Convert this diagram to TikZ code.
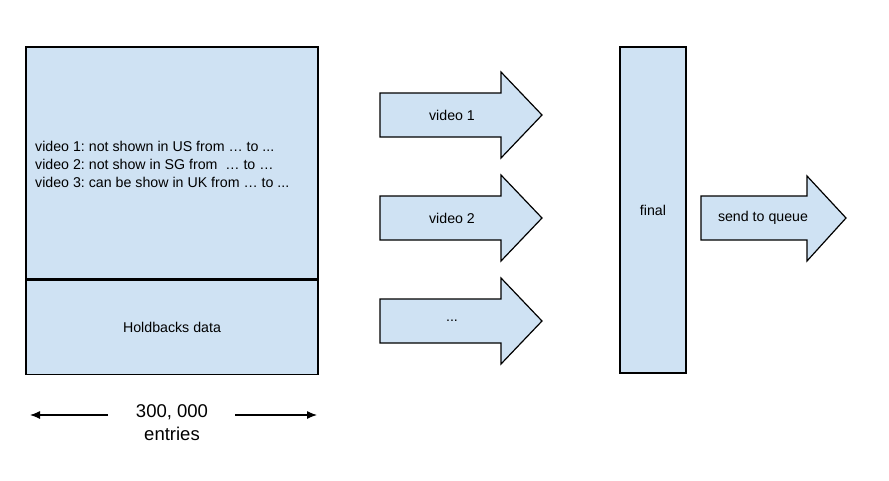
\documentclass[tikz,border=0pt]{standalone}
\usepackage{fontspec}
\setmainfont{Liberation Sans}
\usepackage{tikz}
\usetikzlibrary{arrows.meta,positioning}
\definecolor{gblue}{HTML}{CFE2F3}
\frenchspacing

\tikzset{
  box/.style={draw=black,fill=gblue,line width=1.2pt,inner sep=0pt},
  flow/.style={draw=black,fill=gblue,line width=1.2pt,line join=miter},
  lbl/.style={font=\fontsize{14.2}{18}\selectfont},
}

\begin{document}
\begin{tikzpicture}[x=1pt,y=-1pt]
  \useasboundingbox (0,0) rectangle (889,480);
  % holdbacks table
  \node[box,minimum width=292pt,minimum height=232pt] (list) at (172,163) {};
  \node[lbl,align=left,anchor=west,inner sep=0pt] (notes) at (35,164)
    {video 1: not shown in US from … to ...\\
     video 2: not show in SG from \ … to …\\
     video 3: can be show in UK from … to ...};
  \node[box,lbl,minimum width=292pt,minimum height=94pt,below=0pt of list] (hold) {Holdbacks data};
  % per video arrows
  \foreach \y/\t/\n in {115/video 1/v1,218/video 2/v2,321/{.{}.{}.}/v3} {
    \draw[flow] (380,\y-22) -- (501,\y-22) -- (501,\y-43) -- (542,\y)
      -- (501,\y+43) -- (501,\y+22) -- (380,\y+22) -- cycle;
    \node[lbl] (\n) at (452,\y) {\t};}
  % merge and send
  \node[box,lbl,minimum width=66pt,minimum height=326pt] (final) at (653,210) {final};
  \draw[flow] (701,196) -- (807,196) -- (807,176) -- (846,218)
    -- (807,261) -- (807,240) -- (701,240) -- cycle;
  \node[lbl] (queue) at (763,218) {send to queue};
  % size note
  \node[font=\fontsize{18.5}{23}\selectfont,align=center] (count) at (172,423) {300, 000\\entries};
  \coordinate (lft) at (30,415);
  \coordinate (rgt) at (317,415);
  \coordinate (ls) at (108,415);
  \coordinate (rs) at (235,415);
  \draw[-{Latex[length=10pt,width=8pt]},line width=1.2pt] (ls) -- (lft);
  \draw[-{Latex[length=10pt,width=8pt]},line width=1.2pt] (rs) -- (rgt);
\end{tikzpicture}
\end{document}
